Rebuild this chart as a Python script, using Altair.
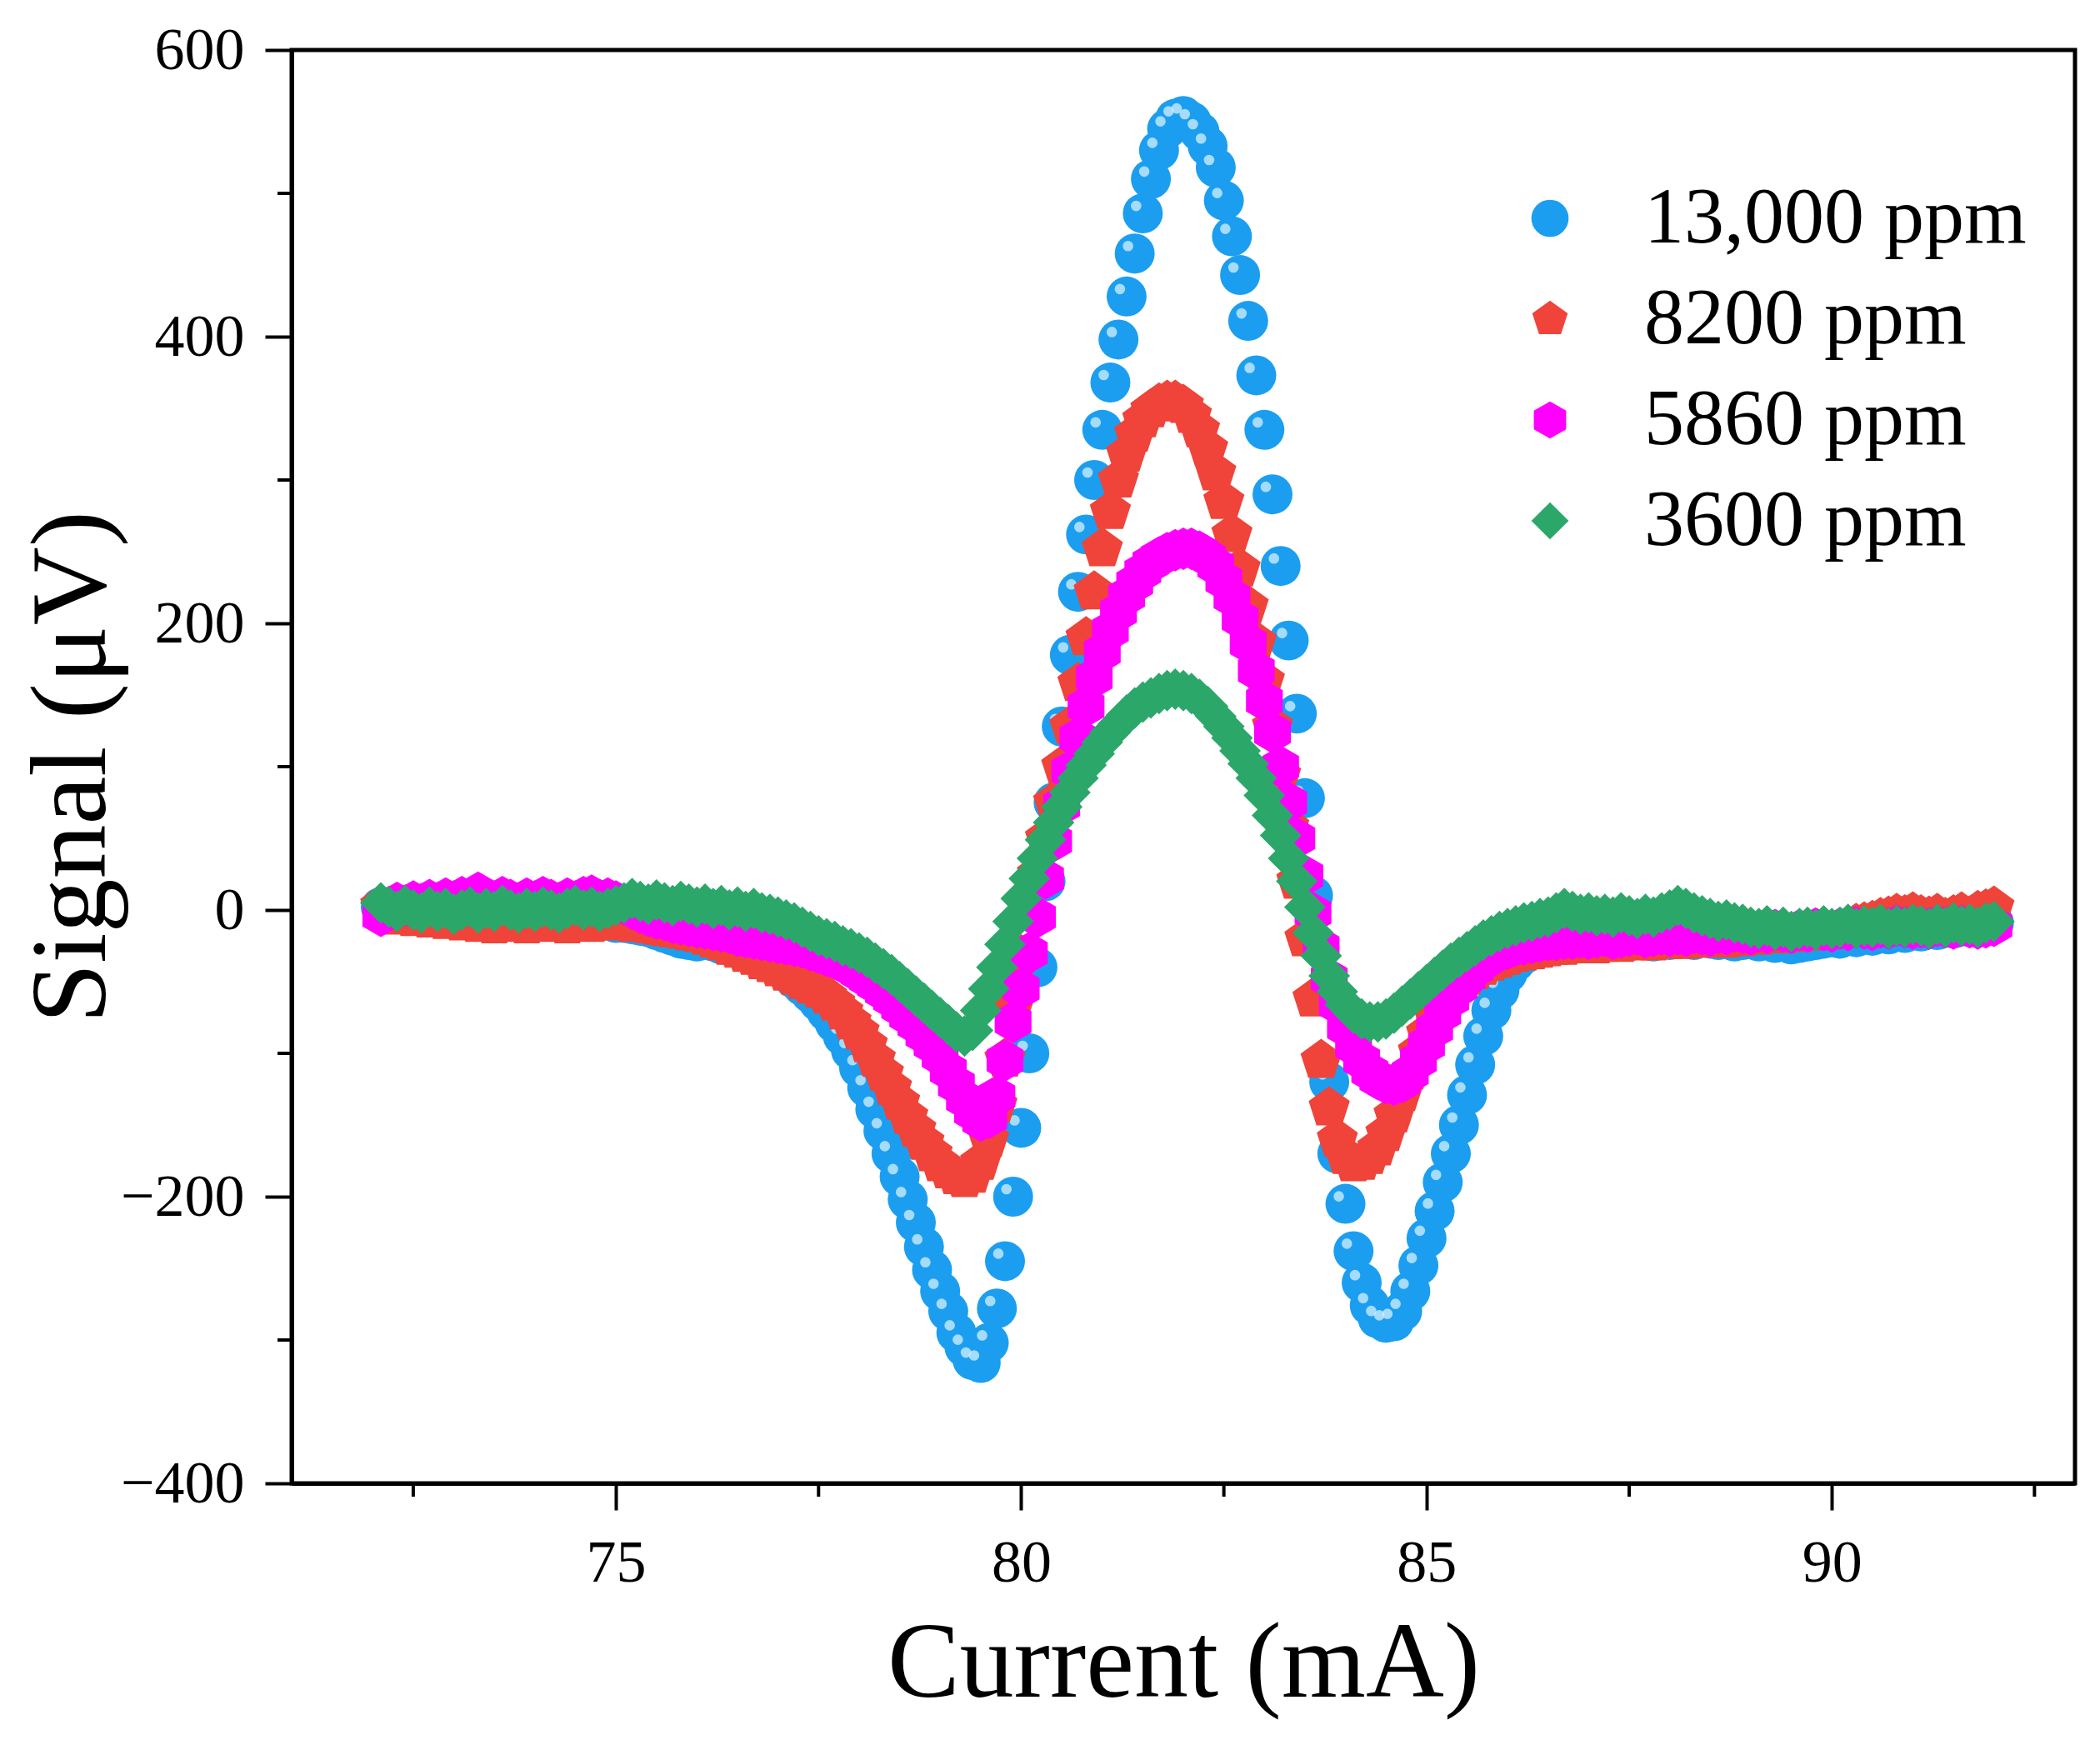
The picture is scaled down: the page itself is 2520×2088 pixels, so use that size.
import altair as alt
import pandas as pd

SERIES = ["13,000 ppm", "8200 ppm", "5860 ppm", "3600 ppm"]
COLORS = ["#1b9ef0", "#f0433a", "#ff00ff", "#2ca76a"]
PENTAGON = "M0,-1L0.951,-0.309L0.588,0.809L-0.588,0.809L-0.951,-0.309Z"
HEXAGON = "M0,-1L0.866,-0.5L0.866,0.5L0,1L-0.866,0.5L-0.866,-0.5Z"
SHAPES = ["circle", PENTAGON, HEXAGON, "diamond"]
MARK_SIZES = [2300, 2700, 2600, 2500]

X_TICKS = [75, 80, 85, 90]
X_MINOR = [72.5, 77.5, 82.5, 87.5, 92.5]
Y_TICKS = [-400, -200, 0, 200, 400, 600]
Y_MINOR = [-300, -100, 100, 300, 500]

CURRENT = [
    72.1, 72.2, 72.3, 72.4, 72.5, 72.6, 72.7, 72.8, 72.9, 73.0,
    73.1, 73.2, 73.3, 73.4, 73.5, 73.6, 73.7, 73.8, 73.9, 74.0,
    74.1, 74.2, 74.3, 74.4, 74.5, 74.6, 74.7, 74.8, 74.9, 75.0,
    75.1, 75.2, 75.3, 75.4, 75.5, 75.6, 75.7, 75.8, 75.9, 76.0,
    76.1, 76.2, 76.3, 76.4, 76.5, 76.6, 76.7, 76.8, 76.9, 77.0,
    77.1, 77.2, 77.3, 77.4, 77.5, 77.6, 77.7, 77.8, 77.9, 78.0,
    78.1, 78.2, 78.3, 78.4, 78.5, 78.6, 78.7, 78.8, 78.9, 79.0,
    79.1, 79.2, 79.3, 79.4, 79.5, 79.6, 79.7, 79.8, 79.9, 80.0,
    80.1, 80.2, 80.3, 80.4, 80.5, 80.6, 80.7, 80.8, 80.9, 81.0,
    81.1, 81.2, 81.3, 81.4, 81.5, 81.6, 81.7, 81.8, 81.9, 82.0,
    82.1, 82.2, 82.3, 82.4, 82.5, 82.6, 82.7, 82.8, 82.9, 83.0,
    83.1, 83.2, 83.3, 83.4, 83.5, 83.6, 83.7, 83.8, 83.9, 84.0,
    84.1, 84.2, 84.3, 84.4, 84.5, 84.6, 84.7, 84.8, 84.9, 85.0,
    85.1, 85.2, 85.3, 85.4, 85.5, 85.6, 85.7, 85.8, 85.9, 86.0,
    86.1, 86.2, 86.3, 86.4, 86.5, 86.6, 86.7, 86.8, 86.9, 87.0,
    87.1, 87.2, 87.3, 87.4, 87.5, 87.6, 87.7, 87.8, 87.9, 88.0,
    88.1, 88.2, 88.3, 88.4, 88.5, 88.6, 88.7, 88.8, 88.9, 89.0,
    89.1, 89.2, 89.3, 89.4, 89.5, 89.6, 89.7, 89.8, 89.9, 90.0,
    90.1, 90.2, 90.3, 90.4, 90.5, 90.6, 90.7, 90.8, 90.9, 91.0,
    91.1, 91.2, 91.3, 91.4, 91.5, 91.6, 91.7, 91.8, 91.9, 92.0,
]

# signal (uV), one row per mA
SIGNAL_13000 = [
    2, 0, -2, 1, -3, -1, -4, -2, -3, -5,
    -3, -4, -6, -4, -5, -7, -5, -6, -4, -6,
    -5, -7, -5, -6, -8, -6, -7, -8, -7, -9,
    -9, -10, -11, -12, -14, -16, -18, -20, -21, -22,
    -21, -22, -24, -25, -27, -29, -31, -33, -36, -39,
    -43, -48, -53, -58, -64, -71, -79, -88, -98, -110,
    -124, -139, -154, -170, -186, -202, -218, -235, -251, -266,
    -280, -295, -305, -314, -316, -302, -278, -245, -200, -152,
    -100, -40, 20, 75, 128, 178, 222, 262, 300, 335,
    368, 398, 428, 458, 486, 510, 530, 545, 552, 554,
    550, 543, 533, 518, 495, 470, 443, 411, 373, 335,
    290, 240, 188, 137, 78, 10, -60, -120, -170, -205,
    -238, -260, -276, -285, -288, -287, -280, -266, -248, -229,
    -210, -190, -170, -150, -129, -108, -88, -70, -56, -44,
    -36, -31, -28, -26, -24, -23, -22, -22, -21, -22,
    -21, -22, -20, -21, -22, -20, -21, -22, -20, -21,
    -19, -20, -21, -19, -20, -21, -20, -22, -21, -20,
    -22, -21, -23, -22, -24, -23, -22, -21, -20, -19,
    -20, -18, -19, -17, -18, -16, -17, -15, -16, -14,
    -15, -13, -14, -12, -13, -11, -12, -10, -11, -9,
]

SIGNAL_8200 = [
    3, -2, -5, -3, -6, -4, -7, -5, -8, -6,
    -9, -7, -10, -8, -11, -9, -10, -8, -11, -9,
    -10, -8, -9, -11, -9, -8, -10, -9, -7, -8,
    -9, -10, -10, -11, -12, -13, -14, -15, -16, -17,
    -19, -21, -23, -26, -28, -31, -33, -36, -38, -41,
    -44, -47, -50, -53, -56, -60, -65, -71, -78, -85,
    -94, -104, -114, -124, -134, -144, -153, -162, -170, -177,
    -182, -186, -188, -185, -176, -160, -136, -104, -68, -32,
    -2, 25, 50, 75, 100, 128, 158, 190, 222, 252,
    278, 300, 318, 332, 342, 349, 353, 355, 355, 352,
    345, 335, 322, 305, 285, 262, 238, 212, 187, 160,
    128, 94, 58, 20, -20, -62, -105, -138, -160, -172,
    -177, -176, -172, -166, -156, -143, -128, -113, -99, -86,
    -75, -66, -58, -52, -47, -43, -40, -37, -35, -33,
    -31, -30, -29, -28, -27, -26, -26, -25, -25, -24,
    -25, -24, -23, -24, -22, -23, -22, -23, -21, -22,
    -21, -22, -20, -21, -20, -19, -21, -19, -20, -18,
    -19, -18, -17, -18, -16, -17, -15, -16, -14, -15,
    -13, -12, -10, -9, -8, -6, -5, -3, -4, -2,
    -4, -5, -3, -6, -4, -2, -5, -1, 0, 2,
]

SIGNAL_5860 = [
    -4, 2, 5, 3, 6, 4, 7, 5, 8, 6,
    9, 7, 12, 8, 6, 9, 7, 5, 8, 6,
    9, 7, 5, 8, 6, 9, 10, 7, 8, 6,
    4, 1, -2, -4, -6, -7, -9, -10, -11, -12,
    -13, -14, -15, -16, -18, -19, -20, -21, -22, -23,
    -24, -25, -26, -28, -30, -32, -34, -37, -40, -44,
    -48, -52, -57, -62, -68, -74, -80, -87, -94, -102,
    -112, -122, -132, -141, -147, -145, -130, -105, -78, -55,
    -30, -5, 22, 48, 73, 97, 120, 142, 162, 180,
    195, 208, 219, 228, 236, 242, 246, 249, 251, 252,
    252, 250, 246, 240, 230, 218, 203, 186, 167, 146,
    124, 100, 75, 50, 24, -2, -26, -48, -66, -82,
    -95, -105, -113, -118, -121, -122, -120, -114, -105, -94,
    -83, -72, -62, -54, -47, -41, -36, -32, -29, -27,
    -25, -24, -23, -22, -21, -21, -20, -20, -19, -20,
    -19, -18, -20, -19, -18, -17, -19, -18, -17, -18,
    -17, -18, -16, -17, -18, -16, -17, -15, -16, -17,
    -15, -16, -14, -15, -16, -14, -15, -13, -14, -15,
    -13, -14, -12, -13, -14, -12, -13, -11, -12, -13,
    -12, -13, -11, -12, -13, -11, -12, -13, -12, -11,
]

SIGNAL_3600 = [
    5, 2, -1, 3, 0, -2, 2, -1, 1, -3,
    0, 2, -2, 1, -1, 3, 0, -2, 1, -1,
    2, 0, -2, 1, 3, 0, 2, -1, 1, 3,
    5, 8, 6, 4, 7, 5, 3, 6, 4, 2,
    4, 1, 3, 0, 2, -1, 1, -2, -3, -5,
    -7, -9, -12, -15, -18, -20, -22, -25, -27, -30,
    -33, -37, -41, -45, -50, -55, -60, -65, -70, -75,
    -80, -85, -88, -84, -70, -55, -40, -24, -8, 8,
    22, 36, 49, 61, 72, 82, 92, 101, 109, 117,
    124, 130, 136, 141, 145, 148, 151, 153, 154, 153,
    151, 147, 142, 135, 128, 120, 111, 102, 92, 80,
    66, 52, 36, 20, 2, -16, -32, -46, -57, -66,
    -72, -76, -78, -78, -76, -72, -67, -62, -57, -52,
    -47, -42, -37, -33, -29, -25, -21, -18, -15, -13,
    -11, -9, -8, -6, -5, -2, 1, -1, -3, -2,
    -4, -3, -5, -2, -4, -6, -3, -5, -2, 0,
    3, 1, -2, -4, -6, -8, -7, -9, -10, -12,
    -13, -11, -14, -12, -15, -13, -12, -14, -11, -13,
    -12, -10, -13, -11, -12, -10, -13, -11, -12, -10,
    -11, -13, -10, -12, -9, -11, -10, -12, -9, -8,
]

SIGNALS = [SIGNAL_13000, SIGNAL_8200, SIGNAL_5860, SIGNAL_3600]

W, H = 2140, 1720
FONT = "Liberation Serif"

frames = []
for name, values in zip(SERIES, SIGNALS):
    frames.append(pd.DataFrame({"current": CURRENT, "signal": values, "series": name}))
data = pd.concat(frames, ignore_index=True)

x_scale = alt.Scale(domain=[71, 93], nice=False, zero=False)
y_scale = alt.Scale(domain=[-400, 600], nice=False, zero=False)

x_enc = alt.X(
    "current:Q",
    scale=x_scale,
    axis=alt.Axis(
        title="Current (mA)",
        values=X_TICKS,
        format="d",
        titleY=255,
        titleBaseline="alphabetic",
        labelPadding=28,
    ),
)
y_enc = alt.Y(
    "signal:Q",
    scale=y_scale,
    axis=alt.Axis(
        title="Signal (μV)",
        values=Y_TICKS,
        format="d",
        titleX=-225,
        titleY=H / 2,
        titleAngle=270,
        titleAlign="center",
        titleBaseline="alphabetic",
        labelPadding=25,
    ),
)
color_enc = alt.Color(
    "series:N",
    scale=alt.Scale(domain=SERIES, range=COLORS),
    legend=alt.Legend(
        title=None,
        orient="none",
        legendX=1462,
        legendY=154,
        labelFont=FONT,
        labelFontSize=96,
        labelColor="black",
        labelLimit=0,
        labelOffset=65,
        symbolSize=2000,
        symbolStrokeWidth=0,
        rowPadding=25,
        padding=0,
    ),
)
shape_enc = alt.Shape("series:N", scale=alt.Scale(domain=SERIES, range=SHAPES))

base = alt.Chart(data)
layers = []
for i, name in enumerate(SERIES):
    pts = base.transform_filter(alt.datum.series == name).mark_point(
        filled=True, opacity=1, strokeWidth=0, size=MARK_SIZES[i]
    ).encode(x=x_enc, y=y_enc, color=color_enc, shape=shape_enc)
    layers.append(pts)
    if i == 0:
        # glossy highlight on the blue spheres
        shine = base.transform_filter(alt.datum.series == name).mark_circle(
            color="#d4efff", opacity=0.75, size=160, xOffset=-8, yOffset=-9
        ).encode(x=x_enc, y=y_enc)
        layers.append(shine)

minor_x = alt.Chart(pd.DataFrame({"current": X_MINOR})).mark_rule(
    color="black", strokeWidth=4
).encode(
    x=x_enc,
    y=alt.value(H),
    y2=alt.value(H + 16),
)
minor_y = alt.Chart(pd.DataFrame({"signal": Y_MINOR})).mark_rule(
    color="black", strokeWidth=4
).encode(
    y=y_enc,
    x=alt.value(0),
    x2=alt.value(-17),
)
layers += [minor_x, minor_y]

chart = (
    alt.layer(*layers)
    .properties(
        width=W,
        height=H,
        autosize=alt.AutoSizeParams(type="none"),
        padding={"left": 342, "top": 52, "right": 22, "bottom": 300},
        background="white",
    )
    .configure_view(stroke="black", strokeWidth=5)
    .configure_axis(
        grid=False,
        domainColor="black",
        domainWidth=5,
        tickColor="black",
        tickWidth=4,
        tickSize=32,
        labelFont=FONT,
        labelFontSize=72,
        labelColor="black",
        titleFont=FONT,
        titleFontSize=130,
        titleFontWeight="normal",
        titleColor="black",
    )
)

chart.save("out.html", embed_options={"renderer": "svg", "actions": False})
